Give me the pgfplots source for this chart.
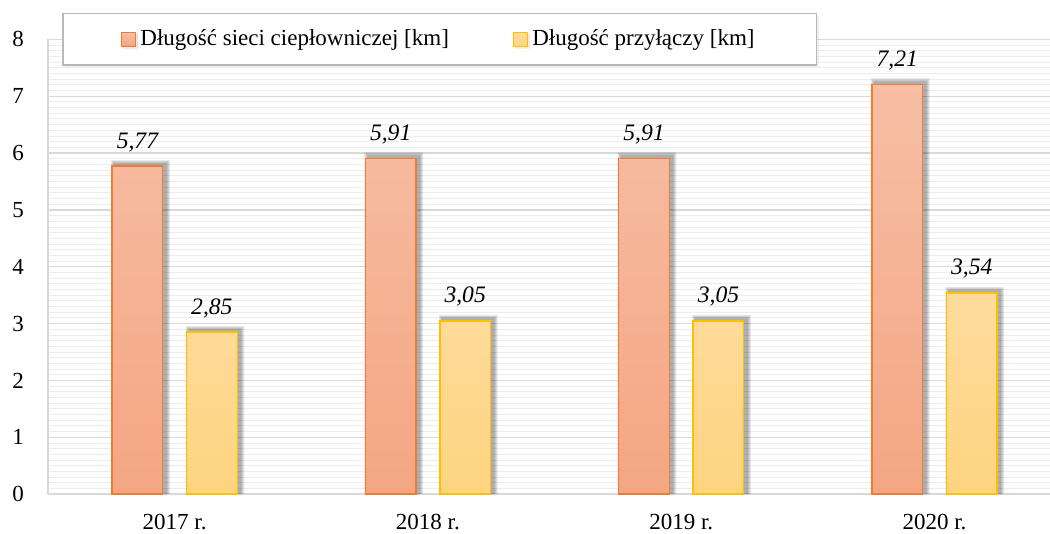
\documentclass[border=0pt]{standalone}
\usepackage{pgfplots}
\usepackage{pgfplotstable}
\pgfplotsset{compat=1.18}
\usepackage{fontspec}
\setmainfont{Liberation Serif}
\usetikzlibrary{shadows}
\definecolor{orEdge}{HTML}{ED7D31}
\definecolor{orTop}{HTML}{F7BEA4}
\definecolor{orBot}{HTML}{F4A683}
\definecolor{yeEdge}{HTML}{FFC000}
\definecolor{yeTop}{HTML}{FFDC9E}
\definecolor{yeBot}{HTML}{FED480}
\definecolor{gridc}{HTML}{D9D9D9}

\pgfplotstableread{
x siec przyl
0 5.77 2.85
1 5.91 3.05
2 5.91 3.05
3 7.21 3.54
}\dane

% soft shadow: stacked translucent bars, a bit right and up
\pgfplotsset{
  shadowbar/.style n args={2}{forget plot, bar shift=#1+0.012, bar width=0.2+2*#2*0.004,
    draw=none, fill=black, fill opacity=0.09, nodes near coords={}},
}
\newcommand{\shadowlayers}[2]{%
  \addplot[shadowbar={#1}{1}] table[x=x, y expr=\thisrow{#2}+0.053] {\dane};
  \addplot[shadowbar={#1}{2}] table[x=x, y expr=\thisrow{#2}+0.070] {\dane};
  \addplot[shadowbar={#1}{3}] table[x=x, y expr=\thisrow{#2}+0.088] {\dane};
  \addplot[shadowbar={#1}{4}] table[x=x, y expr=\thisrow{#2}+0.106] {\dane};
}
\begin{document}
\fontsize{11.5}{13}\selectfont
\begin{tikzpicture}
\begin{axis}[
  name=ax,
  scale only axis,
  width=501pt,
  height=227.4pt,
  ymin=0, ymax=8,
  xmin=-0.5, xmax=3.456,
  ytick={0,1,...,8},
  xtick={0,1,2,3},
  xticklabels={2017 r.,2018 r.,2019 r.,2020 r.},
  major tick length=0pt,
  minor tick length=0pt,
  minor y tick num=9,
  ymajorgrids=true,
  yminorgrids=true,
  major grid style={gridc, line width=0.6pt},
  minor grid style={black!7, line width=0.5pt},
  axis x line*=bottom,
  axis y line*=left,
  axis line style={gridc, line width=0.7pt, -},
  /pgf/number format/assume math mode=true,
  yticklabel style={xshift=-8pt},
  xticklabel style={yshift=-6pt},
  ticklabel style={font=\fontsize{11.5}{13}\selectfont},
  ybar,
  bar width=0.2,
  nodes near coords={\pgfmathprintnumber[fixed,fixed zerofill,precision=2,use comma]{\pgfplotspointmeta}},
  nodes near coords style={font=\fontsize{11.8}{13}\selectfont\itshape, anchor=south, yshift=3pt,
    /pgf/number format/assume math mode=true},
  legend style={at={(0.391,1.0)}, anchor=center, draw=black!28, line width=0.7pt, fill=white,
    drop shadow={shadow xshift=1pt, shadow yshift=-1pt, opacity=0.12},
    legend columns=2, inner xsep=29pt, inner ysep=6pt,
    font=\fontsize{11.5}{13}\selectfont\rmfamily,
    /tikz/every even column/.append style={column sep=30pt}},
  legend cell align=left,
]
\shadowlayers{-0.147}{siec}
\shadowlayers{0.147}{przyl}
\addplot[bar shift=-0.147, draw=orEdge, line width=0.7pt, top color=orTop, bottom color=orBot,
  legend image code/.code={\draw[draw=orEdge, line width=0.7pt, fill=orTop] (0pt,-3.5pt) rectangle (7pt,3.5pt);}]
  table[x=x, y=siec] {\dane};
\addplot[bar shift=0.147, draw=yeEdge, line width=0.7pt, top color=yeTop, bottom color=yeBot,
  legend image code/.code={\draw[draw=yeEdge, line width=0.7pt, fill=yeTop] (0pt,-3.5pt) rectangle (7pt,3.5pt);}]
  table[x=x, y=przyl] {\dane};
\legend{Długość sieci ciepłowniczej [km],Długość przyłączy [km]}
\end{axis}
\pgfresetboundingbox
\path ([shift={(-24pt,-19.5pt)}]ax.south west) rectangle ([shift={(0pt,19.7pt)}]ax.north east);
\end{tikzpicture}
\end{document}
